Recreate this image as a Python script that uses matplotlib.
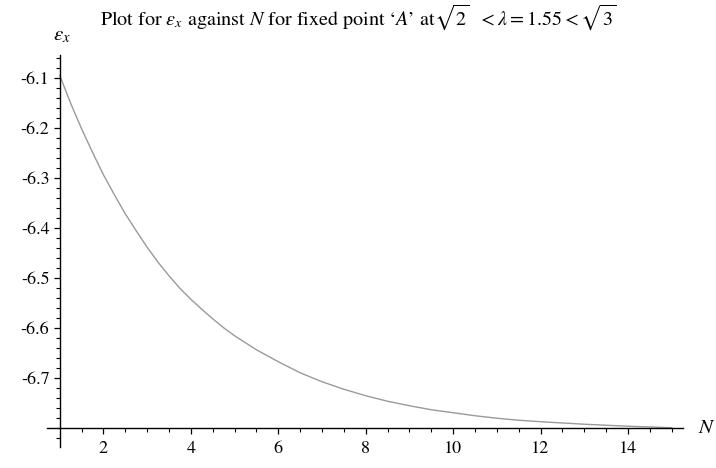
import matplotlib
matplotlib.use("Agg")
import matplotlib.pyplot as plt
from matplotlib.ticker import FixedLocator, MultipleLocator, FormatStrFormatter

# values
n_vals = [1.0, 1.25, 1.5, 1.75, 2.0, 2.25, 2.5, 2.75, 3.0, 3.25, 3.5, 3.75,
          4.0, 4.25, 4.5, 4.75, 5.0, 5.5, 6.0, 6.5, 7.0, 7.5, 8.0, 8.5, 9.0,
          9.5, 10.0, 10.5, 11.0, 11.5, 12.0, 12.5, 13.0, 13.5, 14.0, 14.5, 15.0]
eps_x = [-6.095, -6.151, -6.202, -6.249, -6.294, -6.334, -6.372, -6.406,
         -6.439, -6.469, -6.496, -6.521, -6.543, -6.563, -6.582, -6.600,
         -6.616, -6.644, -6.668, -6.690, -6.708, -6.723, -6.736, -6.747,
         -6.756, -6.764, -6.770, -6.776, -6.781, -6.785, -6.788, -6.7905,
         -6.793, -6.795, -6.797, -6.7985, -6.800]

x_major = [2, 4, 6, 8, 10, 12, 14]
y_major = [-6.1, -6.2, -6.3, -6.4, -6.5, -6.6, -6.7]

plt.rcParams["font.family"] = ["STIXGeneral", "DejaVu Serif"]
plt.rcParams["mathtext.fontset"] = "stix"
plt.rcParams["axes.unicode_minus"] = False

fig = plt.figure(figsize=(7.16, 4.68), dpi=100)
ax = fig.add_axes([0.0652, 0.0455, 0.8887, 0.837])

ax.plot(n_vals, eps_x, color="#9a9a9a", lw=1.0)

ax.set_xlim(0.7, 15.26)
ax.set_ylim(-6.838, -6.054)

# Maple-style crossing axes
ax.spines["top"].set_visible(False)
ax.spines["right"].set_visible(False)
ax.spines["left"].set_position(("data", 1))
ax.spines["bottom"].set_position(("data", -6.8))
for s in ("left", "bottom"):
    ax.spines[s].set_linewidth(1.0)

ax.xaxis.set_major_locator(FixedLocator(x_major))
ax.xaxis.set_minor_locator(FixedLocator([v / 2 for v in range(3, 31)]))
ax.yaxis.set_major_locator(FixedLocator(y_major))
ax.yaxis.set_minor_locator(MultipleLocator(0.02))
ax.xaxis.set_major_formatter(FormatStrFormatter("%d"))
ax.yaxis.set_major_formatter(FormatStrFormatter("%.1f"))

ax.tick_params(which="major", direction="out", length=4.5, width=0.9,
               labelsize=13, pad=3)
ax.tick_params(which="minor", direction="out", length=3, width=0.8)
ax.tick_params(axis="x", which="major", pad=5)

fig.text(0.5, 0.995, r"Plot for $\varepsilon_x$ against $N$ for fixed point ‘$A$’ at"
         r"$\sqrt{2}\ \ < \lambda = 1.55 < \sqrt{3}$",
         ha="center", va="top", fontsize=14.5)
fig.text(0.087, 0.925, r"$\varepsilon_x$", ha="center", va="center", fontsize=15)
fig.text(0.987, 0.086, r"$N$", ha="center", va="center", fontsize=15)

fig.savefig("out.png", dpi=100)
